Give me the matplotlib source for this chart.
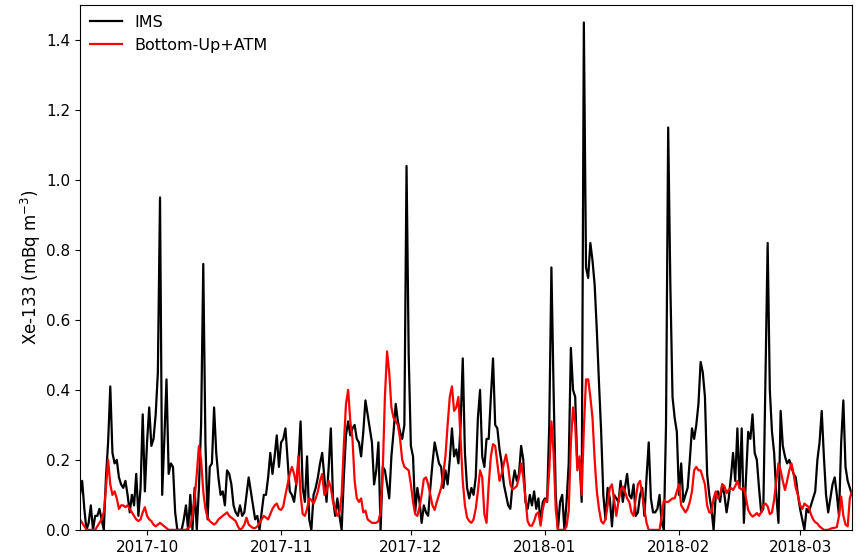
import matplotlib
matplotlib.use("Agg")
import matplotlib.pyplot as plt
import matplotlib.dates as mdates
import numpy as np
import pandas as pd

# 12-hourly samples, 2017-09-15 12:00 -> 2018-03-13 00:00
START = "2017-09-15 12:00"

ims = [
    0.10, 0.14, 0.06, 0.00, 0.02, 0.07, 0.00, 0.04, 0.04, 0.06,
    0.03, 0.00, 0.15, 0.25, 0.41, 0.22, 0.19, 0.20, 0.15, 0.13,
    0.12, 0.14, 0.10, 0.05, 0.10, 0.07, 0.16, 0.04, 0.12, 0.33,
    0.11, 0.25, 0.35, 0.24, 0.26, 0.33, 0.45, 0.95, 0.10, 0.26,
    0.43, 0.16, 0.19, 0.18, 0.05, 0.00, 0.00, 0.00, 0.03, 0.07,
    0.00, 0.10, 0.00, 0.12, 0.00, 0.12, 0.30, 0.76, 0.25, 0.03,
    0.18, 0.19, 0.35, 0.22, 0.15, 0.10, 0.11, 0.07, 0.17, 0.16,
    0.13, 0.07, 0.05, 0.04, 0.07, 0.04, 0.05, 0.10, 0.15, 0.11,
    0.07, 0.03, 0.04, 0.00, 0.05, 0.10, 0.10, 0.15, 0.22, 0.16,
    0.21, 0.27, 0.18, 0.25, 0.26, 0.29, 0.20, 0.11, 0.10, 0.08,
    0.13, 0.19, 0.31, 0.12, 0.08, 0.21, 0.03, 0.00, 0.10, 0.12,
    0.15, 0.19, 0.22, 0.15, 0.08, 0.18, 0.29, 0.09, 0.04, 0.09,
    0.04, 0.00, 0.15, 0.27, 0.31, 0.27, 0.29, 0.30, 0.26, 0.25,
    0.21, 0.28, 0.37, 0.33, 0.29, 0.25, 0.13, 0.17, 0.25, 0.00,
    0.18, 0.17, 0.13, 0.09, 0.21, 0.28, 0.36, 0.31, 0.28, 0.26,
    0.30, 1.04, 0.50, 0.24, 0.21, 0.05, 0.12, 0.08, 0.02, 0.07,
    0.05, 0.04, 0.12, 0.19, 0.25, 0.22, 0.19, 0.18, 0.12, 0.17,
    0.13, 0.20, 0.29, 0.21, 0.23, 0.19, 0.30, 0.49, 0.22, 0.12,
    0.09, 0.12, 0.10, 0.15, 0.32, 0.40, 0.21, 0.18, 0.26, 0.26,
    0.38, 0.49, 0.30, 0.29, 0.23, 0.19, 0.13, 0.10, 0.07, 0.06,
    0.13, 0.17, 0.14, 0.16, 0.24, 0.20, 0.08, 0.06, 0.10, 0.07,
    0.11, 0.06, 0.09, 0.02, 0.08, 0.09, 0.08, 0.30, 0.75, 0.40,
    0.10, 0.00, 0.08, 0.10, 0.00, 0.08, 0.19, 0.52, 0.40, 0.38,
    0.18, 0.20, 0.08, 1.45, 0.75, 0.72, 0.82, 0.77, 0.70, 0.57,
    0.42, 0.28, 0.10, 0.03, 0.12, 0.09, 0.01, 0.10, 0.09, 0.08,
    0.14, 0.08, 0.12, 0.16, 0.10, 0.09, 0.13, 0.04, 0.05, 0.10,
    0.12, 0.04, 0.15, 0.25, 0.09, 0.05, 0.05, 0.06, 0.10, 0.02,
    0.00, 0.30, 1.15, 0.70, 0.38, 0.32, 0.28, 0.10, 0.19, 0.08,
    0.10, 0.12, 0.20, 0.29, 0.26, 0.30, 0.36, 0.48, 0.45, 0.38,
    0.16, 0.10, 0.06, 0.00, 0.10, 0.11, 0.08, 0.13, 0.10, 0.05,
    0.09, 0.15, 0.22, 0.14, 0.29, 0.12, 0.29, 0.02, 0.15, 0.28,
    0.26, 0.33, 0.22, 0.20, 0.12, 0.05, 0.06, 0.45, 0.82, 0.40,
    0.28, 0.22, 0.10, 0.02, 0.34, 0.24, 0.21, 0.19, 0.20, 0.18,
    0.16, 0.15, 0.10, 0.06, 0.03, 0.00, 0.06, 0.05, 0.07, 0.09,
    0.11, 0.20, 0.25, 0.34, 0.21, 0.10, 0.05, 0.09, 0.13, 0.15,
    0.10, 0.04, 0.25, 0.37, 0.18, 0.14, 0.12, 0.10,
]

bottom_up_atm = [
    0.03, 0.02, 0.01, 0.00, 0.00, 0.00, 0.00, 0.00, 0.01, 0.02,
    0.03, 0.05, 0.12, 0.20, 0.13, 0.10, 0.11, 0.09, 0.06, 0.07,
    0.07, 0.065, 0.07, 0.06, 0.05, 0.04, 0.03, 0.025, 0.03, 0.05,
    0.065, 0.04, 0.03, 0.025, 0.015, 0.01, 0.015, 0.02, 0.015, 0.01,
    0.005, 0.00, 0.00, 0.00, 0.00, 0.00, 0.00, 0.00, 0.00, 0.00,
    0.005, 0.01, 0.04, 0.09, 0.16, 0.24, 0.20, 0.11, 0.06, 0.035,
    0.025, 0.02, 0.015, 0.02, 0.03, 0.035, 0.04, 0.045, 0.05, 0.04,
    0.035, 0.03, 0.025, 0.01, 0.00, 0.005, 0.015, 0.035, 0.015, 0.01,
    0.005, 0.005, 0.01, 0.02, 0.03, 0.04, 0.035, 0.03, 0.045, 0.06,
    0.07, 0.075, 0.06, 0.057, 0.067, 0.10, 0.13, 0.16, 0.18, 0.16,
    0.13, 0.21, 0.10, 0.045, 0.04, 0.06, 0.09, 0.085, 0.075, 0.09,
    0.11, 0.14, 0.16, 0.10, 0.11, 0.14, 0.12, 0.08, 0.06, 0.04,
    0.05, 0.10, 0.24, 0.36, 0.40, 0.31, 0.26, 0.14, 0.09, 0.08,
    0.09, 0.05, 0.055, 0.03, 0.025, 0.02, 0.02, 0.02, 0.025, 0.05,
    0.17, 0.38, 0.51, 0.45, 0.35, 0.32, 0.31, 0.30, 0.26, 0.20,
    0.18, 0.175, 0.17, 0.13, 0.08, 0.045, 0.04, 0.065, 0.10, 0.145,
    0.15, 0.13, 0.10, 0.07, 0.057, 0.08, 0.10, 0.12, 0.16, 0.21,
    0.30, 0.38, 0.41, 0.34, 0.35, 0.38, 0.26, 0.14, 0.07, 0.035,
    0.025, 0.02, 0.03, 0.06, 0.11, 0.17, 0.15, 0.045, 0.02, 0.13,
    0.21, 0.245, 0.24, 0.19, 0.14, 0.16, 0.19, 0.215, 0.18, 0.13,
    0.115, 0.12, 0.125, 0.15, 0.19, 0.15, 0.09, 0.025, 0.012, 0.012,
    0.025, 0.045, 0.05, 0.012, 0.06, 0.085, 0.08, 0.17, 0.31, 0.22,
    0.06, 0.00, 0.00, 0.00, 0.00, 0.01, 0.055, 0.25, 0.35, 0.30,
    0.17, 0.21, 0.10, 0.29, 0.43, 0.43, 0.38, 0.32, 0.20, 0.11,
    0.06, 0.025, 0.018, 0.03, 0.07, 0.12, 0.13, 0.085, 0.04, 0.08,
    0.115, 0.124, 0.11, 0.09, 0.08, 0.05, 0.04, 0.09, 0.13, 0.14,
    0.10, 0.06, 0.02, 0.00, 0.00, 0.00, 0.00, 0.00, 0.00, 0.04,
    0.085, 0.08, 0.08, 0.085, 0.09, 0.09, 0.11, 0.13, 0.07, 0.06,
    0.05, 0.06, 0.08, 0.11, 0.17, 0.18, 0.17, 0.17, 0.15, 0.13,
    0.07, 0.05, 0.048, 0.09, 0.11, 0.09, 0.10, 0.13, 0.125, 0.105,
    0.115, 0.12, 0.114, 0.125, 0.14, 0.12, 0.115, 0.12, 0.09, 0.057,
    0.045, 0.038, 0.042, 0.048, 0.04, 0.05, 0.07, 0.075, 0.067, 0.045,
    0.05, 0.086, 0.14, 0.19, 0.17, 0.14, 0.114, 0.14, 0.17, 0.19,
    0.16, 0.12, 0.10, 0.07, 0.06, 0.075, 0.07, 0.065, 0.045, 0.03,
    0.022, 0.018, 0.01, 0.005, 0.00, 0.00, 0.00, 0.003, 0.005, 0.006,
    0.008, 0.04, 0.095, 0.04, 0.015, 0.01, 0.09, 0.11,
]

times = pd.date_range(START, periods=len(ims), freq="12h")

fig = plt.figure(figsize=(8.64, 5.56), dpi=100, facecolor="white")
ax = fig.add_axes([0.0926, 0.047, 0.8935, 0.944])

ax.plot(times, ims, color="black", linewidth=1.6, label="IMS")
ax.plot(times, bottom_up_atm, color="red", linewidth=1.6, label="Bottom-Up+ATM")

ax.set_xlim(times[0], times[-1])
ax.set_ylim(0, 1.5)
ax.set_yticks(np.arange(0, 1.41, 0.2))
ax.xaxis.set_major_locator(mdates.MonthLocator())
ax.xaxis.set_major_formatter(mdates.DateFormatter("%Y-%m"))
ax.tick_params(labelsize=11)
ax.set_ylabel("Xe-133 (mBq m$^{-3}$)", fontsize=12, labelpad=2)
ax.legend(loc="upper left", frameon=False, fontsize=11.5, borderaxespad=0.2)

fig.savefig("out.png", dpi=100, facecolor="white")
